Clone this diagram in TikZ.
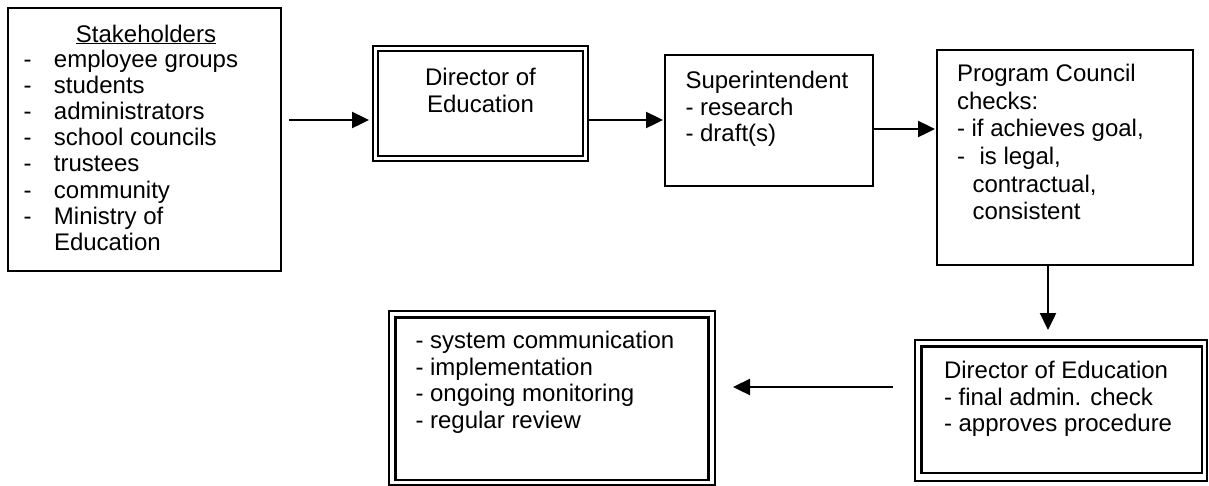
\documentclass[tikz,border=0pt]{standalone}
\usepackage{fontspec}
\setmainfont{Liberation Sans}
\usetikzlibrary{arrows.meta}
\newcommand{\tlines}[1]{\begin{tabular}[t]{@{}l@{}}#1\end{tabular}}
\newcommand{\clines}[1]{\begin{tabular}[t]{@{}c@{}}#1\end{tabular}}
\newcommand{\fsz}[1]{\fontsize{24}{#1}\selectfont}
\newcommand{\dsh}[1]{\makebox[#1][l]{-}}
\begin{document}
\begin{tikzpicture}[x=1pt,y=-1pt,
  sbox/.style={draw, line width=2.6pt, inner sep=0pt, outer sep=0pt},
  dbox/.style={draw, line width=2.8pt, inner sep=0pt, outer sep=0pt},
  inbox/.style={draw, line width=2.1pt},
  arr/.style={line width=2.4pt, -{Triangle[length=17pt,width=16pt]}},
  txt/.style={anchor=base west, inner sep=0pt, outer sep=0pt}
]
\useasboundingbox (0,0) rectangle (1209,485);
\fill[white] (0,0) rectangle (1209,485);

% boxes
\node[sbox, minimum width=273pt, minimum height=263pt] (stake) at (144.5,139.5) {};
\node[dbox, minimum width=215pt, minimum height=115pt] (dirA) at (480.5,103.5) {};
\draw[inbox] ([shift={(5pt,-5pt)}]dirA.north west) rectangle ([shift={(-5pt,5pt)}]dirA.south east);
\node[sbox, minimum width=208pt, minimum height=131pt] (sup) at (769,120.5) {};
\node[sbox, minimum width=256pt, minimum height=215pt] (pc) at (1065,157.5) {};
\node[dbox, minimum width=292pt, minimum height=141pt] (dirB) at (1061,410.5) {};
\draw[inbox] ([shift={(6.5pt,-6.5pt)}]dirB.north west) rectangle ([shift={(-5pt,8pt)}]dirB.south east);
\node[dbox, minimum width=326pt, minimum height=174pt] (fin) at (552,398) {};
\draw[inbox] ([shift={(6.5pt,-6.5pt)}]fin.north west) rectangle ([shift={(-6.5pt,5pt)}]fin.south east);

% texts
\node[txt, anchor=base] (stakeT) at (146,42) {\fsz{26}\underline{Stakeholders}};
\node[txt] (stakeL) at (23.5,67.5) {\fsz{26.1}\tlines{%
\dsh{30.5pt}employee groups\\
\dsh{30.5pt}students\\
\dsh{30.5pt}administrators\\
\dsh{30.5pt}school councils\\
\dsh{30.5pt}trustees\\
\dsh{30.5pt}community\\
\dsh{30.5pt}Ministry of\\
\hspace*{30.5pt}Education}};
\node[txt, anchor=base] (dirAT) at (480.5,85) {\fsz{27.5}\clines{Director of\\Education}};
\node[txt] (supT) at (685.5,88.5) {\fsz{26.5}\tlines{Superintendent\\- research\\- draft(s)}};
\node[txt] (pcT) at (957,81.7) {\fsz{27.6}\tlines{Program Council\\checks:\\- if achieves goal,\\\dsh{22.5pt}is legal,\\\hspace*{15.5pt}contractual,\\\hspace*{15.5pt}consistent}};
\node[txt] (dirBT) at (944,378.5) {\fsz{26.7}\tlines{Director of Education\\- final admin. check\\- approves procedure}};
\node[txt] (finT) at (415.5,348.5) {\fsz{26.7}\tlines{- system communication\\- implementation\\- ongoing monitoring\\- regular review}};

% connectors
\draw[arr, shorten <=8pt, shorten >=4pt] (stake.east |- 0,120) -- (dirA.west |- 0,120);
\draw[arr, shorten >=2pt] (dirA.east |- 0,120) -- (sup.west |- 0,120);
\draw[arr, shorten >=2pt] (sup.east |- 0,129) -- (pc.west |- 0,129);
\draw[arr, shorten >=10pt] (pc.south -| 1048,0) -- (dirB.north -| 1048,0);
\draw[arr, shorten <=22pt, shorten >=18pt] (dirB.west |- 0,387) -- (fin.east |- 0,387);
\end{tikzpicture}
\end{document}
